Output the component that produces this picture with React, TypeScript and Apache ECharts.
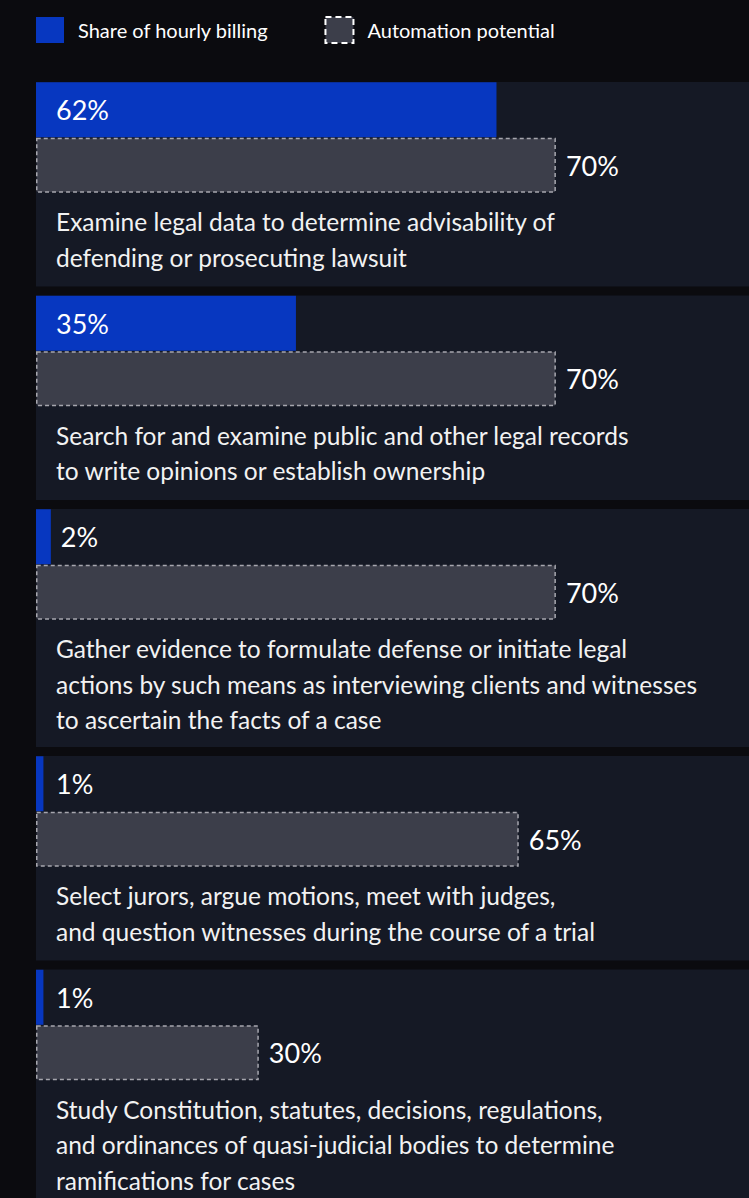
import React, { useEffect, useRef } from "react";
import * as echarts from "echarts";

const categories = [
  "Examine legal data to determine advisability of\ndefending or prosecuting lawsuit",
  "Search for and examine public and other legal records\nto write opinions or establish ownership",
  "Gather evidence to formulate defense or initiate legal\nactions by such means as interviewing clients and witnesses\nto ascertain the facts of a case",
  "Select jurors, argue motions, meet with judges,\nand question witnesses during the course of a trial",
  "Study Constitution, statutes, decisions, regulations,\nand ordinances of quasi-judicial bodies to determine\nramifications for cases",
];
const billingShare = [62, 35, 2, 1, 1];
const automationPotential = [70, 70, 70, 65, 30];
const seriesNames = ["Share of hourly billing", "Automation potential"];

const W = 749;
const H = 1198;
const FONT = "Lato";
const LEFT = 36;
const AXIS_MAX = 96;
const BAR = 55;

export default function App() {
  const ref = useRef<HTMLDivElement>(null);
  useEffect(() => {
    if (!ref.current) return;
    const chart = echarts.init(ref.current, null, { renderer: "svg" });
    const pxPerUnit = (W - LEFT) / AXIS_MAX;

    const tops: number[] = [];
    let y = 82;
    categories.forEach((c) => {
      tops.push(y);
      const lines = c.split("\n").length;
      y += (lines === 3 ? 238 : 204.5) + 9;
    });

    const grids: any[] = [];
    const xAxes: any[] = [];
    const yAxes: any[] = [];
    const series: any[] = [];
    const graphics: any[] = [];

    categories.forEach((c, i) => {
      const lines = c.split("\n").length;
      const top = tops[i];
      const ph = lines === 3 ? 238 : 204.5;
      grids.push({ left: LEFT, right: 0, top, height: 111, containLabel: false });
      xAxes.push({ type: "value", gridIndex: i, min: 0, max: AXIS_MAX, show: false });
      yAxes.push({
        type: "category",
        gridIndex: i,
        inverse: true,
        data: ["share", "potential"],
        show: false,
      });
      const bw = billingShare[i] * pxPerUnit;
      const lx = bw > 50 ? 20 : Math.max(20, bw + 10);
      series.push({
        type: "bar",
        name: seriesNames[0],
        xAxisIndex: i,
        yAxisIndex: i,
        barWidth: BAR,
        barGap: "-100%",
        itemStyle: { color: "#0737c0" },
        z: 3,
        label: {
          show: true,
          position: [lx, "50%"],
          verticalAlign: "middle",
          align: "left",
          color: "#ffffff",
          fontFamily: FONT,
          fontSize: 27,
          formatter: "{c}%",
        },
        data: [billingShare[i], "-"],
      });
      series.push({
        type: "bar",
        name: seriesNames[1],
        xAxisIndex: i,
        yAxisIndex: i,
        barWidth: BAR,
        barGap: "-100%",
        itemStyle: {
          color: "#3c3e4a",
          borderColor: "#a6a6ae",
          borderWidth: 1.5,
          borderType: [4, 3],
        },
        z: 3,
        label: {
          show: true,
          position: "right",
          distance: 10,
          color: "#ffffff",
          fontFamily: FONT,
          fontSize: 27,
          formatter: "{c}%",
        },
        data: ["-", automationPotential[i]],
      });
      graphics.push({
        type: "rect",
        z: 0,
        shape: { x: LEFT, y: top, width: W - LEFT, height: ph },
        style: { fill: "#151925" },
      });
      graphics.push({
        type: "text",
        z: 1,
        x: 56,
        y: top + 122,
        style: {
          text: c,
          fill: "#f2f2f2",
          fontFamily: FONT,
          fontSize: 24.5,
          lineHeight: 35.5,
          verticalAlign: "top",
          align: "left",
        },
      });
    });

    chart.setOption({
      animation: false,
      backgroundColor: "#0b0b0f",
      legend: {
        left: LEFT,
        top: 16,
        padding: 0,
        itemWidth: 28,
        itemHeight: 26,
        itemGap: 56,
        textStyle: {
          color: "#ffffff",
          fontFamily: FONT,
          fontSize: 20,
          padding: [0, 0, 0, 9],
        },
        data: [
          { name: seriesNames[0], icon: "rect", itemStyle: { color: "#0737c0", borderWidth: 0 } },
          {
            name: seriesNames[1],
            icon: "rect",
            itemStyle: {
              color: "#3c3e4a",
              borderColor: "#ffffff",
              borderWidth: 2,
              borderType: [6, 4],
            },
          },
        ],
      },
      grid: grids,
      xAxis: xAxes,
      yAxis: yAxes,
      series,
      graphic: graphics,
    });
    return () => chart.dispose();
  }, []);
  return (
    <div
      ref={ref}
      style={{ position: "fixed", left: 0, top: 0, width: W, height: H }}
    />
  );
}
